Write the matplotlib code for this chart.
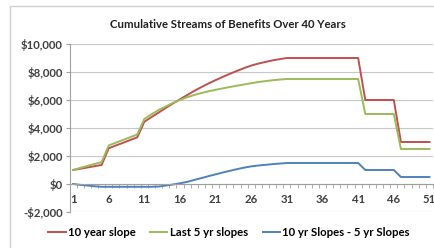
import matplotlib.pyplot as plt
from matplotlib.ticker import FuncFormatter, MultipleLocator, FixedLocator
from matplotlib.patches import Rectangle

plt.rcParams['font.family'] = ['Lato', 'DejaVu Sans']

# categories (years 1..51)
years = list(range(1, 52))

ten_year = [1000, 1090, 1180, 1270, 1360, 2550, 2750, 2940, 3140, 3330,
            4450, 4780, 5100, 5430, 5750, 6050, 6350, 6650, 6920, 7180,
            7420, 7650, 7870, 8080, 8280, 8460, 8600, 8720, 8830, 8920,
            9000, 9000, 9000, 9000, 9000, 9000, 9000, 9000, 9000, 9000,
            9000, 6000, 6000, 6000, 6000, 6000, 3000, 3000, 3000, 3000, 3000]

last_five = [1000, 1150, 1290, 1430, 1560, 2750, 2950, 3140, 3340, 3530,
             4650, 4980, 5280, 5540, 5790, 6000, 6200, 6360, 6500, 6620,
             6730, 6830, 6930, 7020, 7110, 7200, 7280, 7350, 7410, 7460,
             7500, 7500, 7500, 7500, 7500, 7500, 7500, 7500, 7500, 7500,
             7500, 5000, 5000, 5000, 5000, 5000, 2500, 2500, 2500, 2500, 2500]

diff = [0, -60, -110, -160, -200, -200, -200, -200, -200, -200,
        -200, -200, -180, -110, -40, 50, 150, 290, 420, 560,
        690, 820, 940, 1060, 1170, 1260, 1320, 1370, 1420, 1460,
        1500, 1500, 1500, 1500, 1500, 1500, 1500, 1500, 1500, 1500,
        1500, 1000, 1000, 1000, 1000, 1000, 500, 500, 500, 500, 500]

fig = plt.figure(figsize=(4.35, 2.48), dpi=100)
fig.patch.set_facecolor('white')
fig.patches.append(Rectangle((10 / 435, -0.1), 1.1, 1.1 - 6 / 248,
                             transform=fig.transFigure, fill=False,
                             edgecolor='#D0D0D0', lw=1.0))

ax = fig.add_axes([69.5 / 435, 1 - 212 / 248, 363.5 / 435, 168 / 248])

ax.plot(years, ten_year, color='#C0504D', lw=1.4, label='10 year slope')
ax.plot(years, last_five, color='#9BBB59', lw=1.4, label='Last 5 yr slopes')
ax.plot(years, diff, color='#4F81BD', lw=1.4, label='10 yr Slopes - 5 yr Slopes')

ax.set_xlim(0.5, 51.5)
ax.set_ylim(-2000, 10000)
ax.yaxis.set_major_locator(MultipleLocator(2000))
ax.yaxis.set_major_formatter(FuncFormatter(
    lambda v, p: ('-$' if v < 0 else '$') + f'{abs(v):,.0f}'))
ax.grid(axis='y', color='#C8C8C8', lw=0.8)
ax.set_axisbelow(True)

ax.xaxis.set_major_locator(FixedLocator(list(range(1, 52, 5))))
ax.xaxis.set_minor_locator(FixedLocator([x + 0.5 for x in range(0, 52)]))
ax.spines['bottom'].set_position(('data', 0))
ax.spines['bottom'].set_color('#A0A0A0')
ax.spines['left'].set_color('#A0A0A0')
ax.spines['top'].set_visible(False)
ax.spines['right'].set_visible(False)
ax.tick_params(axis='x', which='major', length=0, pad=7, labelsize=8.2)
ax.tick_params(axis='x', which='minor', length=3, color='#A0A0A0', direction='out')
ax.tick_params(axis='y', length=3, color='#A0A0A0', labelsize=8.2, pad=2)
for lbl in ax.get_xticklabels() + ax.get_yticklabels():
    lbl.set_fontweight('bold')
    lbl.set_color('#404040')

fig.text(228 / 435, 1 - 24 / 248, 'Cumulative Streams of Benefits Over 40 Years',
         ha='center', va='center', fontsize=8.2, fontweight='bold', color='#202020')

fig.legend(loc='center', bbox_to_anchor=(229 / 435, 1 - 232 / 248), ncol=3,
           frameon=False, handlelength=1.5, handletextpad=0.2,
           columnspacing=1.3, prop={'weight': 'bold', 'size': 8.2})

fig.savefig('out.png', dpi=100)
